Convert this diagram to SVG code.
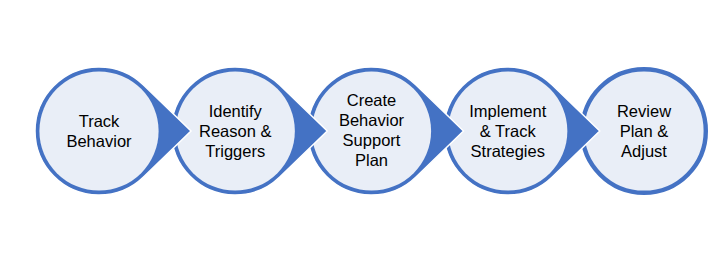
<svg xmlns="http://www.w3.org/2000/svg" width="714" height="263" viewBox="0 0 714 263">
<style>
.drop{fill:#4472C4;stroke:#FFFFFF;stroke-width:1.5;stroke-linejoin:miter}
.inner{fill:#E9EEF7}
.ring{fill:#E9EEF7;stroke:#4472C4;stroke-width:4.4}
.lbl{font-family:"Liberation Sans",Arial,sans-serif;font-size:16.5px;fill:#000;text-anchor:middle}
</style>
<defs>
<path id="tear" d="M92,0 L44.5,-46 A64,64 0 1,0 44.5,46 Z"/>
</defs>
<rect width="714" height="263" fill="#fff"/>
<g id="connectors"></g>
<g id="n5" transform="translate(644,131)">
<circle r="61.8" class="ring"/>
<text class="lbl"><tspan x="0" y="-14">Review</tspan><tspan x="0" y="6">Plan &amp;</tspan><tspan x="0" y="26">Adjust</tspan></text>
</g>
<g id="n4" transform="translate(507.75,131)">
<use href="#tear" class="drop"/>
<circle r="59.6" class="inner"/>
<text class="lbl"><tspan x="0" y="-14">Implement</tspan><tspan x="0" y="6">&amp; Track</tspan><tspan x="0" y="26">Strategies</tspan></text>
</g>
<g id="n3" transform="translate(371.5,131)">
<use href="#tear" class="drop"/>
<circle r="59.6" class="inner"/>
<text class="lbl"><tspan x="0" y="-25">Create</tspan><tspan x="0" y="-5">Behavior</tspan><tspan x="0" y="15">Support</tspan><tspan x="0" y="35">Plan</tspan></text>
</g>
<g id="n2" transform="translate(235.25,131)">
<use href="#tear" class="drop"/>
<circle r="59.6" class="inner"/>
<text class="lbl"><tspan x="0" y="-14">Identify</tspan><tspan x="0" y="6">Reason &amp;</tspan><tspan x="0" y="26">Triggers</tspan></text>
</g>
<g id="n1" transform="translate(99,131)">
<use href="#tear" class="drop"/>
<circle r="59.6" class="inner"/>
<text class="lbl"><tspan x="0" y="-4">Track</tspan><tspan x="0" y="16">Behavior</tspan></text>
</g>
</svg>
